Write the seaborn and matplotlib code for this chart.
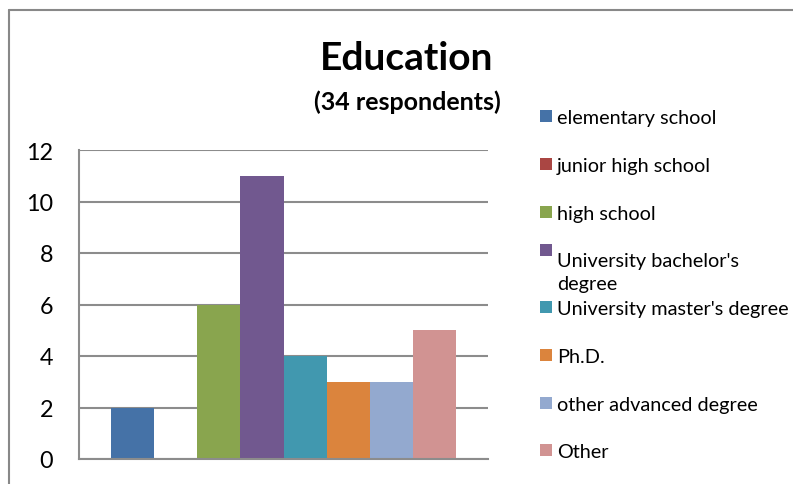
import matplotlib
matplotlib.use("Agg")
import matplotlib.pyplot as plt
import pandas as pd
import seaborn as sns
from matplotlib.patches import Patch, Rectangle
from matplotlib.legend_handler import HandlerPatch
from matplotlib.font_manager import FontProperties
from matplotlib.lines import Line2D

# ---- data -------------------------------------------------------------
levels = [
    "elementary school",
    "junior high school",
    "high school",
    "University bachelor's degree",
    "University master's degree",
    "Ph.D.",
    "other advanced degree",
    "Other",
]
legend_labels = [
    "elementary school",
    "junior high school",
    "high school",
    "University bachelor's\ndegree",
    "University master's degree",
    "Ph.D.",
    "other advanced degree",
    "Other",
]
counts = [2, 0, 6, 11, 4, 3, 3, 5]
colors = ["#4572A7", "#AA4643", "#89A54E", "#71588F",
          "#4198AF", "#DB843D", "#93A9CF", "#D19392"]
yticks = [0, 2, 4, 6, 8, 10, 12]
title = "Education"
subtitle = "(34 respondents)"

# ---- figure -------------------------------------------------------------
W, H, DPI = 793, 485, 100
sns.set_theme(style="white")
plt.rcParams["font.family"] = ["Lato", "DejaVu Sans"]
plt.rcParams["text.color"] = "black"

GRID = "#8c8c8c"
fig = plt.figure(figsize=(W / DPI, H / DPI), dpi=DPI)
fig.patch.set_facecolor("white")

ax = fig.add_axes([79 / W, 1 - 460 / H, (488 - 79) / W, (460 - 151) / H])

df = pd.DataFrame({"survey": "Education", "level": levels, "count": counts})
sns.barplot(data=df, x="survey", y="count", hue="level", hue_order=levels,
            palette=colors, saturation=1, width=0.8435, errorbar=None,
            legend=False, linewidth=0, ax=ax)

ax.set_xlim(-0.5, 0.5)
ax.set_ylim(0, 12)
ax.set_yticks(yticks)
ax.set_xticks([])
ax.set_xlabel("")
ax.set_ylabel("")
ax.yaxis.grid(True, color=GRID, linewidth=1.5)
ax.set_axisbelow(True)
for side in ("top", "right"):
    ax.spines[side].set_visible(False)
for side in ("left", "bottom"):
    ax.spines[side].set_color(GRID)
    ax.spines[side].set_linewidth(1.5)
ax.tick_params(axis="y", length=0, pad=18.5, labelsize=16.8, labelcolor="black")

# ---- titles -------------------------------------------------------------
fig.text(407 / W, 1 - 70 / H, title, ha="center", va="baseline",
         fontsize=28, fontweight="bold")
fig.text(407 / W, 1 - 109.5 / H, subtitle, ha="center", va="baseline",
         fontsize=18, fontweight="bold")

# ---- chart frame (left and top edges) -----------------------------------
fig.add_artist(Line2D([9 / W, 9 / W], [0, 1 - 11 / H], transform=fig.transFigure,
                      color="#888888", linewidth=1.5))
fig.add_artist(Line2D([9 / W, 1], [1 - 11 / H, 1 - 11 / H], transform=fig.transFigure,
                      color="#888888", linewidth=1.5))

# ---- legend -------------------------------------------------------------
LEG_FS = 14.3
fs_px = LEG_FS * DPI / 72
fp = FontProperties(family=["Lato", "DejaVu Sans"], size=LEG_FS)
renderer = fig.canvas.get_renderer()
_, lp_h, lp_d = renderer.get_text_width_height_descent("lp", fp, ismath=False)
asc = lp_h - lp_d

pitch = 47.7          # distance between entry baselines (px)
first_base = 124.3    # baseline of the first entry (px from top)
line_gap = 22.3       # baseline distance inside a wrapped label (px)
sq_pt = 12 * 72 / DPI

handles = [Patch(facecolor=c, edgecolor="none", label=l)
           for c, l in zip(colors, legend_labels)]


def square(lift_pt):
    def make(legend, orig_handle, xdescent, ydescent, width, height, fontsize):
        return Rectangle((-xdescent, lift_pt), sq_pt, sq_pt)
    return make


handler_map = {h: HandlerPatch(patch_func=square(0.7)) for h in handles}
handler_map[handles[3]] = HandlerPatch(patch_func=square(0.7 + line_gap * 72 / DPI))

leg_kw = dict(loc="upper left", bbox_transform=fig.transFigure, frameon=False,
              borderpad=0, borderaxespad=0, prop=fp,
              handlelength=sq_pt / LEG_FS, handleheight=0.6,
              handletextpad=3.6 / LEG_FS,
              labelspacing=(pitch - lp_h) / fs_px, handler_map=handler_map)

leg1 = fig.legend(handles=handles[:4], labels=legend_labels[:4],
                  bbox_to_anchor=(540 / W, 1 - (first_base - asc) / H), **leg_kw)
leg1.get_texts()[3].set_linespacing((line_gap - lp_d) / asc)
leg2 = fig.legend(handles=handles[4:], labels=legend_labels[4:],
                  bbox_to_anchor=(540 / W, 1 - (first_base + 4 * pitch - asc) / H),
                  **leg_kw)

fig.savefig("out.png", dpi=DPI, facecolor="white")
